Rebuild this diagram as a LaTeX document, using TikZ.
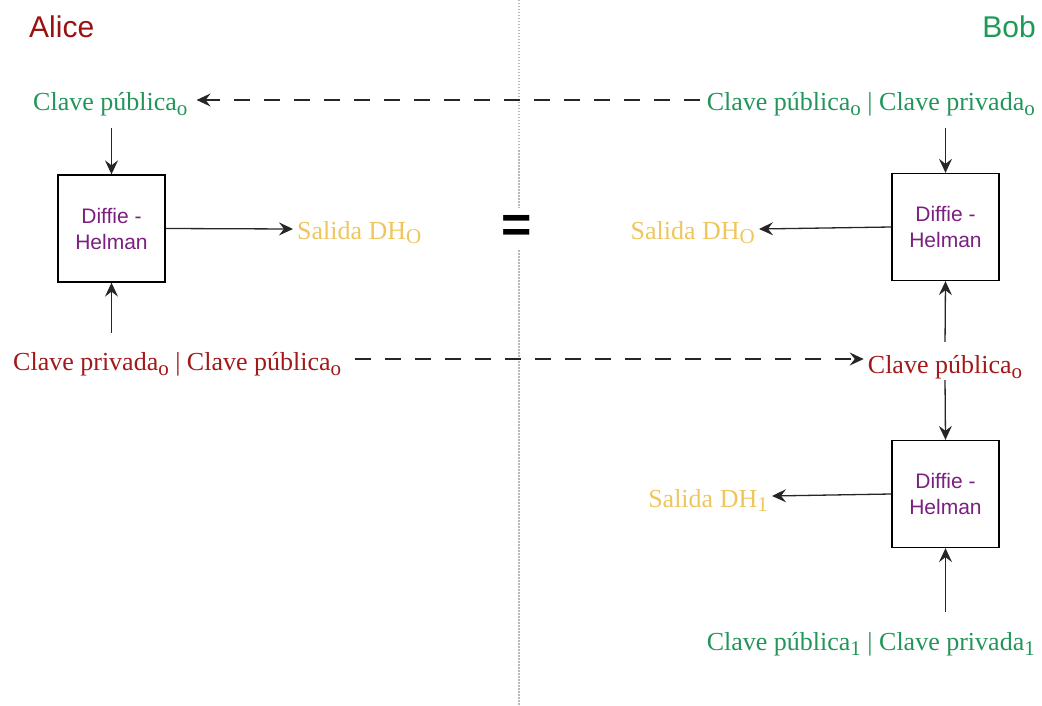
\documentclass[tikz,border=0pt]{standalone}
\usepackage{fontspec}
\setmainfont{Liberation Serif}
\setsansfont{Liberation Sans}
\usetikzlibrary{arrows.meta}

\definecolor{alicered}{HTML}{9A1111}
\definecolor{keyred}{HTML}{A31818}
\definecolor{bobgreen}{HTML}{1E9A56}
\definecolor{keygreen}{HTML}{22965A}
\definecolor{outyellow}{HTML}{EFC65E}
\definecolor{dhpurple}{HTML}{7B1F80}

% lowered index after a key or output name
\newcommand{\keyidx}[1]{\raisebox{-5pt}{\fontsize{21}{21}\selectfont #1}}
\newcommand{\outidx}[1]{\raisebox{-4pt}{\fontsize{21}{21}\selectfont #1}}

\tikzset{
  party/.style={font=\sffamily\fontsize{30}{30}\selectfont, inner sep=0pt},
  keylabel/.style={font=\fontsize{26}{26}\selectfont, text height=22pt, text depth=0pt, inner sep=4pt},
  outlabel/.style={keylabel, text=outyellow},
  dhbox/.style={draw, line width=1.3pt, minimum width=107pt, minimum height=107pt,
    align=center, text=dhpurple, font=\sffamily\fontsize{21}{26}\selectfont},
  flow/.style={line width=1.3pt, draw=black!85, -{Stealth[length=14pt,width=13pt,inset=5pt]}},
  exchange/.style={flow, dash pattern=on 16pt off 14pt},
  divider/.style={gray!55, line width=1.5pt, dash pattern=on 1.5pt off 1.5pt}
}

\begin{document}
\begin{tikzpicture}[x=1pt, y=-1pt]
  \useasboundingbox (0,0) rectangle (1042,706);

  % parties
  \node[party, text=alicered, anchor=base west] (alice) at (29,38) {Alice};
  \node[party, text=bobgreen, anchor=base east] (bob) at (1036,38) {Bob};

  % Alice side
  \node[keylabel, text=keygreen, anchor=base west] (alicepub) at (29,111)
    {Clave pública\keyidx{o}};
  \node[dhbox] (dhA) at (111.5,228.5) {Diffie -\\Helman};
  \node[outlabel, anchor=base west] (outA) at (293,240) {Salida DH\outidx{O}};
  \node[keylabel, text=keyred, anchor=base west] (alicekeys) at (9,370)
    {Clave privada\keyidx{o} | Clave pública\keyidx{o}};

  % equality mark between both sides
  \node[font=\sffamily\bfseries\fontsize{52}{52}\selectfont, minimum height=42pt, inner sep=0pt]
    (eq) at (517,229) {=};

  % Bob side
  \node[keylabel, text=keygreen, anchor=base east] (bobkeys0) at (1039,111)
    {Clave pública\keyidx{o} | Clave privada\keyidx{o}};
  \node[dhbox] (dhB0) at (945.5,227) {Diffie -\\Helman};
  \node[outlabel, anchor=base east] (outB0) at (759,240) {Salida DH\outidx{O}};
  \node[keylabel, text=keyred, anchor=base] (alicepubB) at (945,373)
    {Clave pública\keyidx{o}};
  \node[dhbox] (dhB1) at (945.5,494) {Diffie -\\Helman};
  \node[outlabel, anchor=base east] (outB1) at (772,507) {Salida DH\outidx{1}};
  \node[keylabel, text=keygreen, anchor=base east] (bobkeys1) at (1039,650)
    {Clave pública\keyidx{1} | Clave privada\keyidx{1}};

  % divider between Alice and Bob
  \coordinate (divtop) at (519,0);
  \coordinate (divbot) at (519,706);
  \draw[divider] (divtop) -- (divtop |- eq.north);
  \draw[divider] (divbot |- eq.south) -- (divbot);

  % key exchange
  \draw[exchange, shorten <=3pt, shorten >=5pt] (bobkeys0.west) -- (alicepub.east);
  \draw[exchange, shorten <=10pt] (alicekeys.east) -- (alicekeys.east -| alicepubB.west);

  % Alice computation
  \draw[flow, shorten <=13pt] (dhA.north |- alicepub.south) -- (dhA.north);
  \draw[flow, shorten <=11pt] (dhA.south |- alicekeys.north) -- (dhA.south);
  \draw[flow] (dhA.east) -- (outA.west);

  % Bob computations
  \draw[flow, shorten <=13pt] (dhB0.north |- bobkeys0.south) -- (dhB0.north);
  \draw[flow, shorten <=5pt] (alicepubB.north) -- (dhB0.south);
  \draw[flow] (dhB0.west) -- (outB0.east);
  \draw[flow, shorten <=3pt] (alicepubB.south) -- (dhB1.north);
  \draw[flow] (dhB1.west) -- (outB1.east);
  \draw[flow, shorten <=12pt] (dhB1.south |- bobkeys1.north) -- (dhB1.south);
\end{tikzpicture}
\end{document}
